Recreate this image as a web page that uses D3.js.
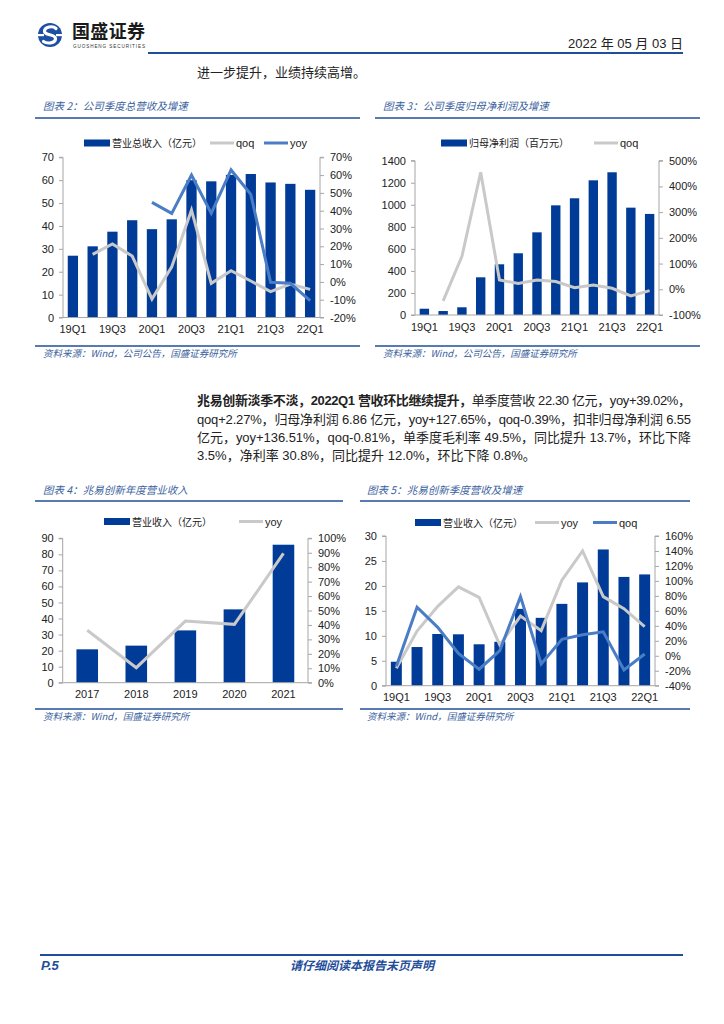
<!DOCTYPE html>
<html>
<head>
<meta charset="utf-8">
<script src="https://cdn.jsdelivr.net/npm/d3@7/dist/d3.min.js"></script>
<style>
html,body{margin:0;padding:0;background:#fff;}
svg{display:block;}
</style>
</head>
<body>
<svg id="page" width="724" height="1024"></svg>
<script>
// ---------- DATA ----------
const quarters = ["19Q1","19Q2","19Q3","19Q4","20Q1","20Q2","20Q3","20Q4","21Q1","21Q2","21Q3","21Q4","22Q1"];

// Chart 2: company quarterly total revenue (亿元) and growth (%)
const c2Revenue = [27.0, 31.1, 37.5, 42.5, 38.6, 42.9, 60.0, 59.5, 62.3, 62.7, 59.0, 58.4, 55.8];
const c2Qoq = [null, 15.5, 21.3, 14.5, -9.6, 8.5, 40.4, -0.8, 6.3, 0.5, -5.5, -1.2, -4.2];
const c2Yoy = [null, null, null, null, 44.7, 38.5, 60.0, 38.5, 62.9, 49.2, -0.2, -0.8, -10.5];
const c2LeftTicks = [0,10,20,30,40,50,60,70];
const c2RightTicks = [-20,-10,0,10,20,30,40,50,60,70];

// Chart 3: net profit attributable (百万元) and qoq (%)
const c3Profit = [57, 36, 70, 342, 460, 560, 750, 995, 1059, 1222, 1295, 974, 917];
const c3Qoq = [null, -45, 128, 455, 36, 23, 36, 30, 6, 17, 4, -26, -5];
const c3LeftTicks = [0,200,400,600,800,1000,1200,1400];
const c3RightTicks = [-100,0,100,200,300,400,500];

// Chart 4: annual revenue (亿元) and yoy (%)
const years = ["2017","2018","2019","2020","2021"];
const c4Revenue = [20.8, 23.1, 32.6, 45.7, 86.0];
const c4Yoy = [36.3, 10.4, 42.7, 40.4, 89.5];
const c4LeftTicks = [0,10,20,30,40,50,60,70,80,90];
const c4RightTicks = [0,10,20,30,40,50,60,70,80,90,100];

// Chart 5: quarterly revenue (亿元), yoy and qoq (%)
const c5Revenue = [4.8, 7.75, 10.36, 10.3, 8.3, 8.8, 15.4, 13.6, 16.4, 20.7, 27.3, 21.8, 22.3];
const c5Yoy = [-16.7, 33, 66, 92, 78, 14.4, 53, 33.6, 101, 140, 79, 63, 39];
const c5Qoq = [-14, 64.8, 38, 3, -18, 7, 79, -11, 22, 28, 32, -19, 2.3];
const c5LeftTicks = [0,5,10,15,20,25,30];
const c5RightTicks = [-40,-20,0,20,40,60,80,100,120,140,160];

// ---------- STYLE ----------
const BAR = "#003C97";
const GRAY = "#C9C9C9";
const LBLUE = "#4A7DC6";
const NAVY = "#1F4E9A";
const CAP = "#3A5F9E";
const LAT = "'Liberation Sans', Arial, 'Noto Sans CJK SC', sans-serif";
const CJK = "'Noto Sans CJK SC', 'Liberation Sans', sans-serif";

const svg = d3.select("#page");
svg.append("rect").attr("width",724).attr("height",1024).attr("fill","#fff");

// ---------- HEADER ----------
const logo = svg.append("g");
logo.append("circle").attr("cx",50).attr("cy",35).attr("r",12).attr("fill","#1D4FA3");
logo.append("path")
  .attr("d","M56,28.5 C53,25.5 44.5,26.5 44.5,31.5 C44.5,35.5 55.5,34 55.5,38.5 C55.5,43.5 47,44 43.5,41.5")
  .attr("fill","none").attr("stroke","#fff").attr("stroke-width",3.2).attr("stroke-linecap","round");
logo.append("rect").attr("x",37).attr("y",34).attr("width",7).attr("height",2.2).attr("fill","#fff");
logo.append("rect").attr("x",56).attr("y",34).attr("width",7).attr("height",2.2).attr("fill","#fff");
svg.append("text").attr("x",72).attr("y",38).attr("font-family",CJK).attr("font-weight","bold")
  .attr("font-size",18).attr("fill","#1a1a1a").attr("textLength",73).text("国盛证券");
svg.append("text").attr("x",73).attr("y",48).attr("font-family",LAT).attr("font-size",4.6)
  .attr("fill","#333").attr("textLength",72).text("GUOSHENG SECURITIES");
svg.append("text").attr("x",683).attr("y",48).attr("text-anchor","end").attr("font-family",LAT)
  .attr("font-size",13).attr("fill","#222").text("2022 年 05 月 03 日");
svg.append("line").attr("x1",148).attr("x2",683).attr("y1",53).attr("y2",53)
  .attr("stroke",NAVY).attr("stroke-width",2);
svg.append("text").attr("x",197).attr("y",77).attr("font-family",CJK).attr("font-size",13)
  .attr("fill","#222").text("进一步提升，业绩持续高增。");

// ---------- FOOTER ----------
svg.append("line").attr("x1",40).attr("x2",683).attr("y1",955).attr("y2",955)
  .attr("stroke",NAVY).attr("stroke-width",2);
svg.append("text").attr("x",41).attr("y",970).attr("font-family",LAT).attr("font-style","italic")
  .attr("font-weight","bold").attr("font-size",13).attr("fill",NAVY).text("P.5");
svg.append("text").attr("x",362).attr("y",970).attr("text-anchor","middle").attr("font-family",CJK)
  .attr("font-style","italic").attr("font-weight","bold").attr("font-size",12).attr("fill",NAVY)
  .text("请仔细阅读本报告末页声明");

// ---------- PARAGRAPH ----------
const para = svg.append("g").attr("font-family",LAT).attr("font-size",13).attr("fill","#222");
const l1 = para.append("text").attr("x",197).attr("y",405).attr("textLength",494).attr("lengthAdjust","spacing");
l1.append("tspan").attr("font-weight","bold").text("兆易创新淡季不淡，2022Q1 营收环比继续提升，");
l1.append("tspan").text("单季度营收 22.30 亿元，yoy+39.02%，");
para.append("text").attr("x",197).attr("y",424).attr("textLength",494).attr("lengthAdjust","spacing")
  .text("qoq+2.27%，归母净利润 6.86 亿元，yoy+127.65%，qoq-0.39%，扣非归母净利润 6.55");
para.append("text").attr("x",197).attr("y",442).attr("textLength",494).attr("lengthAdjust","spacing")
  .text("亿元，yoy+136.51%，qoq-0.81%，单季度毛利率 49.5%，同比提升 13.7%，环比下降");
para.append("text").attr("x",197).attr("y",460)
  .text("3.5%，净利率 30.8%，同比提升 12.0%，环比下降 0.8%。");

// ---------- CHART FRAME (title, rules, source) ----------
function frame(o){
  svg.append("text").attr("x",o.tx).attr("y",o.ty).attr("font-family",CJK).attr("font-style","italic")
    .attr("font-size",10.5).attr("fill",CAP).text(o.title);
  svg.append("line").attr("x1",o.lx0).attr("x2",o.lx1).attr("y1",o.ly).attr("y2",o.ly)
    .attr("stroke",NAVY).attr("stroke-width",1.5);
  svg.append("line").attr("x1",o.lx0).attr("x2",o.lx1).attr("y1",o.sy).attr("y2",o.sy)
    .attr("stroke",NAVY).attr("stroke-width",1.5);
  svg.append("text").attr("x",o.tx).attr("y",o.sy+11).attr("font-family",CJK).attr("font-style","italic")
    .attr("font-size",9.5).attr("fill",CAP).text(o.source);
}

// ---------- COMBO CHART ----------
function combo(o){
  const g = svg.append("g");
  const x = d3.scaleBand().domain(o.cats).range([o.x0,o.x1]).paddingInner(0).paddingOuter(0);
  const yL = d3.scaleLinear().domain(o.lDomain).range([o.yB,o.yT]);
  const yR = d3.scaleLinear().domain(o.rDomain).range([o.yB,o.yT]);
  const bw = x.bandwidth()*o.barRatio;

  g.selectAll("rect.bar").data(o.bars).join("rect")
    .attr("x",(d,i)=>x(o.cats[i])+(x.bandwidth()-bw)/2)
    .attr("y",d=>yL(d)).attr("width",bw).attr("height",d=>yL(0)-yL(d)).attr("fill",BAR);

  o.lines.forEach(L=>{
    const line = d3.line().defined(d=>d!=null)
      .x((d,i)=>x(o.cats[i])+x.bandwidth()/2).y(d=>yR(d));
    g.append("path").datum(L.values).attr("d",line).attr("fill","none")
      .attr("stroke",L.color).attr("stroke-width",3).attr("stroke-linejoin","miter");
  });

  const left = g.append("g").attr("transform",`translate(${o.x0},0)`)
    .call(d3.axisLeft(yL).tickValues(o.lTicks).tickSize(4).tickPadding(5).tickFormat(d3.format("d")));
  const right = g.append("g").attr("transform",`translate(${o.x1},0)`)
    .call(d3.axisRight(yR).tickValues(o.rTicks).tickSize(4).tickPadding(6).tickFormat(d=>d+"%"));
  const bottom = g.append("g").attr("transform",`translate(0,${o.yB})`)
    .call(d3.axisBottom(x).tickSize(0).tickPadding(8)
      .tickFormat((d,i)=> (i % o.every === 0) ? d : ""));
  [left,right,bottom].forEach(a=>{
    a.selectAll("path.domain").attr("stroke","#A6A6A6").attr("stroke-width",1);
    a.selectAll(".tick line").attr("stroke","#A6A6A6");
    a.selectAll("text").attr("font-family",LAT).attr("font-size",11).attr("fill","#222");
  });
  bottom.select("path.domain").attr("d",`M${o.x0},0H${o.x1}`);
  left.select("path.domain").attr("d",`M-4,${yL(o.lDomain[1])}H0V${o.yB}H-4`);
  right.select("path.domain").attr("d",`M4,${yR(o.rDomain[1])}H0V${o.yB}H4`);

  // legend
  const lg = g.append("g").attr("font-family",CJK).attr("font-size",10.5).attr("fill","#222");
  o.legend.forEach(it=>{
    if(it.type==="bar"){
      lg.append("rect").attr("x",it.x).attr("y",o.legY-3.5).attr("width",26).attr("height",7).attr("fill",BAR);
    } else {
      lg.append("line").attr("x1",it.x).attr("x2",it.x+24).attr("y1",o.legY).attr("y2",o.legY)
        .attr("stroke",it.color).attr("stroke-width",3);
    }
    lg.append("text").attr("x",it.x+(it.type==="bar"?28:26)).attr("y",o.legY+4)
      .attr("font-family",it.latin?LAT:CJK).attr("font-size",it.latin?11:10).text(it.label);
  });
}

// Chart 2
frame({tx:43,ty:110,lx0:35,lx1:360,ly:118,sy:346,title:"图表 2：公司季度总营收及增速",source:"资料来源：Wind，公司公告，国盛证券研究所"});
combo({cats:quarters,bars:c2Revenue,x0:63,x1:320,yT:157.3,yB:317.5,lDomain:[0,70],rDomain:[-20,70],
  lTicks:c2LeftTicks,rTicks:c2RightTicks,barRatio:0.52,every:2,legY:143,
  lines:[{values:c2Qoq,color:GRAY},{values:c2Yoy,color:LBLUE}],
  legend:[{type:"bar",x:84,label:"营业总收入（亿元）"},{type:"line",x:210,color:GRAY,label:"qoq",latin:true},{type:"line",x:264,color:LBLUE,label:"yoy",latin:true}]});

// Chart 3
frame({tx:383,ty:110,lx0:375,lx1:700,ly:118,sy:346,title:"图表 3：公司季度归母净利润及增速",source:"资料来源：Wind，公司公告，国盛证券研究所"});
combo({cats:quarters,bars:c3Profit,x0:415,x1:659,yT:160.7,yB:315,lDomain:[0,1400],rDomain:[-100,500],
  lTicks:c3LeftTicks,rTicks:c3RightTicks,barRatio:0.5,every:2,legY:143,
  lines:[{values:c3Qoq,color:GRAY}],
  legend:[{type:"bar",x:441,label:"归母净利润（百万元）"},{type:"line",x:594,color:GRAY,label:"qoq",latin:true}]});

// Chart 4
frame({tx:43,ty:494,lx0:35,lx1:343,ly:501,sy:709,title:"图表 4：兆易创新年度营业收入",source:"资料来源：Wind，国盛证券研究所"});
combo({cats:years,bars:c4Revenue,x0:62.7,x1:308,yT:538.3,yB:682.7,lDomain:[0,90],rDomain:[0,100],
  lTicks:c4LeftTicks,rTicks:c4RightTicks,barRatio:0.44,every:1,legY:521.5,
  lines:[{values:c4Yoy,color:GRAY}],
  legend:[{type:"bar",x:104,label:"营业收入（亿元）"},{type:"line",x:239,color:GRAY,label:"yoy",latin:true}]});

// Chart 5
frame({tx:367,ty:494,lx0:360,lx1:690,ly:501,sy:709,title:"图表 5：兆易创新季度营收及增速",source:"资料来源：Wind，国盛证券研究所"});
combo({cats:quarters,bars:c5Revenue,x0:386,x1:655,yT:536,yB:685.7,lDomain:[0,30],rDomain:[-40,160],
  lTicks:c5LeftTicks,rTicks:c5RightTicks,barRatio:0.53,every:2,legY:522.5,
  lines:[{values:c5Yoy,color:GRAY},{values:c5Qoq,color:LBLUE}],
  legend:[{type:"bar",x:415,label:"营业收入（亿元）"},{type:"line",x:535,color:GRAY,label:"yoy",latin:true},{type:"line",x:593,color:LBLUE,label:"qoq",latin:true}]});
</script>
</body>
</html>
